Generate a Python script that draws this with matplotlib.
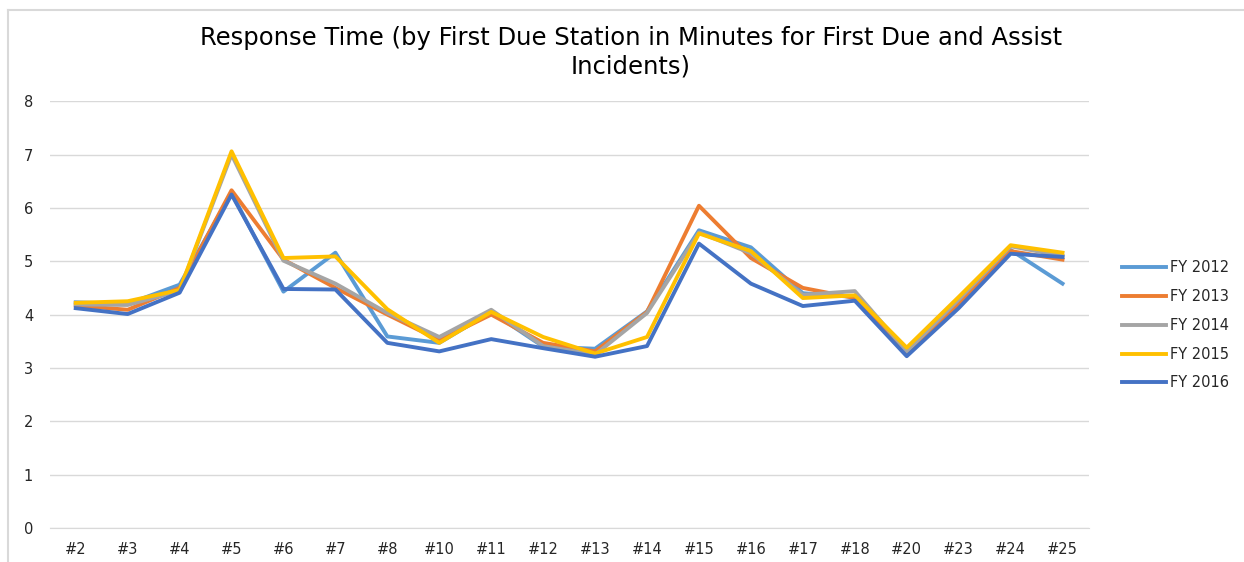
import matplotlib.pyplot as plt
from matplotlib.lines import Line2D

# Estaciones y tiempos de respuesta (minutos)
estaciones = ['#2', '#3', '#4', '#5', '#6', '#7', '#8', '#10', '#11', '#12',
              '#13', '#14', '#15', '#16', '#17', '#18', '#20', '#23', '#24', '#25']

fy2012 = [4.23, 4.20, 4.56, 6.28, 4.43, 5.16, 3.59, 3.47, 4.05, 3.40,
          3.36, 4.06, 5.58, 5.26, 4.40, 4.33, 3.28, 4.20, 5.21, 4.58]
fy2013 = [4.17, 4.09, 4.50, 6.33, 5.03, 4.50, 4.00, 3.52, 4.00, 3.47,
          3.31, 4.05, 6.04, 5.06, 4.50, 4.31, 3.30, 4.20, 5.19, 5.03]
fy2014 = [4.19, 4.18, 4.45, 7.00, 5.01, 4.58, 4.03, 3.58, 4.09, 3.41,
          3.25, 4.03, 5.54, 5.15, 4.37, 4.44, 3.31, 4.28, 5.28, 5.10]
fy2015 = [4.22, 4.25, 4.46, 7.06, 5.06, 5.09, 4.10, 3.47, 4.05, 3.58,
          3.27, 3.58, 5.52, 5.19, 4.31, 4.36, 3.38, 4.33, 5.30, 5.16]
fy2016 = [4.12, 4.01, 4.41, 6.25, 4.48, 4.47, 3.47, 3.31, 3.54, 3.37,
          3.21, 3.41, 5.33, 4.58, 4.16, 4.26, 3.22, 4.12, 5.14, 5.08]

series = [('FY 2012', fy2012, '#5B9BD5'),
          ('FY 2013', fy2013, '#ED7D31'),
          ('FY 2014', fy2014, '#A5A5A5'),
          ('FY 2015', fy2015, '#FFC000'),
          ('FY 2016', fy2016, '#4472C4')]

fig = plt.figure(figsize=(12.44, 5.62), dpi=100)
ax = fig.add_axes([0.040, 0.0605, 0.835, 0.7595])

x = range(len(estaciones))
for nombre, valores, color in series:
    ax.plot(x, valores, color=color, lw=2.8, label=nombre)

ax.set_xlim(-0.5, len(estaciones) - 0.5)
ax.set_ylim(0, 8)
ax.set_yticks(range(0, 9))
ax.set_xticks(list(x))
ax.set_xticklabels(estaciones)
ax.grid(axis='y', color='#d9d9d9', lw=1)
ax.set_axisbelow(True)
for s in ['top', 'right', 'left']:
    ax.spines[s].set_visible(False)
ax.spines['bottom'].set_color('#d9d9d9')
ax.tick_params(length=0, labelsize=10.5, colors='#262626')
ax.tick_params(axis='y', pad=12)
ax.tick_params(axis='x', pad=10)

ax.legend(loc='center left', bbox_to_anchor=(1.02, 0.475), frameon=False,
          fontsize=10.5, handlelength=3.0, handletextpad=0.25, labelspacing=0.95,
          labelcolor='#262626')

fig.text(0.507, 0.9066, 'Response Time (by First Due Station in Minutes for First Due and Assist\nIncidents)',
         ha='center', va='center', fontsize=17.5, linespacing=1.25, color='#000000')

# marco gris del grafico
fig.add_artist(Line2D([8 / 1244, 1], [1 - 10 / 562, 1 - 10 / 562], color='#d9d9d9', lw=1.5))
fig.add_artist(Line2D([8 / 1244, 8 / 1244], [0, 1 - 10 / 562], color='#d9d9d9', lw=1.5))

fig.savefig('out.png', dpi=100, facecolor='white')
